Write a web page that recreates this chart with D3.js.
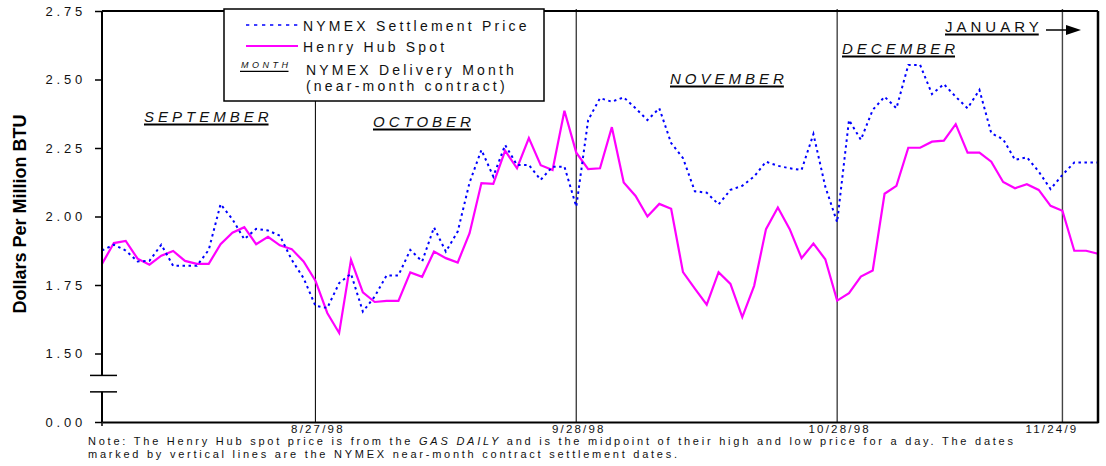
<!DOCTYPE html>
<html>
<head>
<meta charset="utf-8">
<script src="https://cdn.jsdelivr.net/npm/d3@7"></script>
<style>
  body { margin: 0; background: #fff; }
  svg { display: block; font-family: "Liberation Sans", Arial, sans-serif; }
</style>
</head>
<body>
<div id="chart"></div>
<script>
// trading days (weekdays) Aug 3 - Nov 27, 1998
const dates = [
  "8/3","8/4","8/5","8/6","8/7","8/10","8/11","8/12","8/13","8/14",
  "8/17","8/18","8/19","8/20","8/21","8/24","8/25","8/26","8/27","8/28",
  "8/31","9/1","9/2","9/3","9/4","9/7","9/8","9/9","9/10","9/11",
  "9/14","9/15","9/16","9/17","9/18","9/21","9/22","9/23","9/24","9/25",
  "9/28","9/29","9/30","10/1","10/2","10/5","10/6","10/7","10/8","10/9",
  "10/12","10/13","10/14","10/15","10/16","10/19","10/20","10/21","10/22","10/23",
  "10/26","10/27","10/28","10/29","10/30","11/2","11/3","11/4","11/5","11/6",
  "11/9","11/10","11/11","11/12","11/13","11/16","11/17","11/18","11/19","11/20",
  "11/23","11/24","11/25","11/26","11/27"
];

const henryHub = [
  1.827, 1.903, 1.911, 1.846, 1.824, 1.857, 1.874, 1.838, 1.827, 1.827,
  1.899, 1.941, 1.961, 1.899, 1.926, 1.895, 1.881, 1.836, 1.766, 1.648,
  1.575, 1.842, 1.723, 1.688, 1.692, 1.692, 1.796, 1.780, 1.872, 1.848,
  1.832, 1.939, 2.122, 2.119, 2.240, 2.176, 2.286, 2.187, 2.170, 2.386,
  2.233, 2.173, 2.176, 2.326, 2.124, 2.075, 2.000, 2.046, 2.028, 1.797,
  1.737, 1.678, 1.797, 1.754, 1.633, 1.747, 1.954, 2.033, 1.954, 1.848,
  1.901, 1.844, 1.693, 1.720, 1.781, 1.803, 2.083, 2.112, 2.251, 2.251,
  2.273, 2.277, 2.337, 2.233, 2.233, 2.200, 2.126, 2.103, 2.118, 2.097,
  2.039, 2.021, 1.875, 1.875, 1.864
];

const nymex = [
  1.876, 1.897, 1.876, 1.836, 1.838, 1.897, 1.820, 1.820, 1.820, 1.878,
  2.045, 1.990, 1.917, 1.955, 1.949, 1.930, 1.842, 1.775, 1.674, 1.666,
  1.757, 1.791, 1.653, 1.708, 1.785, 1.785, 1.878, 1.836, 1.960, 1.872,
  1.945, 2.124, 2.243, 2.146, 2.261, 2.188, 2.188, 2.134, 2.182, 2.182,
  2.036, 2.352, 2.432, 2.419, 2.435, 2.395, 2.352, 2.395, 2.268, 2.213,
  2.092, 2.087, 2.044, 2.097, 2.112, 2.146, 2.200, 2.185, 2.176, 2.170,
  2.301, 2.109, 1.979, 2.352, 2.280, 2.389, 2.437, 2.395, 2.553, 2.553,
  2.447, 2.483, 2.437, 2.395, 2.462, 2.304, 2.282, 2.207, 2.216, 2.164,
  2.100, 2.152, 2.197, 2.197, 2.197
];

// NYMEX near-month settlement dates (vertical lines)
const settleDates = ["8/27", "9/28", "10/28", "11/24"];
const settleLabels = ["8/27/98", "9/28/98", "10/28/98", "11/24/9"];

// y axis: broken scale, bottom tick reads 0.00
const yTicks = [1.25, 1.5, 1.75, 2.0, 2.25, 2.5, 2.75];
const yTickLabels = ["0.00", "1.50", "1.75", "2.00", "2.25", "2.50", "2.75"];

const monthLabels = [
  { text: "SEPTEMBER", x: 144, y: 122, italic: true },
  { text: "OCTOBER", x: 373, y: 127, italic: true },
  { text: "NOVEMBER", x: 670, y: 84, italic: true },
  { text: "DECEMBER", x: 842, y: 54, italic: true },
  { text: "JANUARY", x: 945, y: 32, italic: false }
];

const width = 1106, height = 466;
const marginLeft = 102, plotRight = 1098, plotTop = 11, plotBottom = 422;

const svg = d3.select("#chart").append("svg")
  .attr("width", width)
  .attr("height", height);

const x = d3.scaleLinear().domain([0, dates.length - 1]).range([marginLeft, plotRight]);
const y = d3.scaleLinear().domain([1.25, 2.75]).range([plotBottom, plotTop]);

// vertical settlement lines
svg.append("g")
  .selectAll("line")
  .data(settleDates)
  .join("line")
  .attr("x1", d => x(dates.indexOf(d)))
  .attr("x2", d => x(dates.indexOf(d)))
  .attr("y1", plotTop - 2)
  .attr("y2", plotBottom)
  .attr("stroke", (d, i) => (i % 2 ? "#444" : "#111"))
  .attr("stroke-width", (d, i) => (i % 2 ? 1.4 : 1.1));

// series
const line = d3.line().x((d, i) => x(i)).y(d => y(d));

svg.append("path")
  .datum(henryHub)
  .attr("fill", "none")
  .attr("stroke", "#ff00ff")
  .attr("stroke-width", 2.2)
  .attr("stroke-linejoin", "miter")
  .attr("d", line);

svg.append("path")
  .datum(nymex)
  .attr("fill", "none")
  .attr("stroke", "#0000ff")
  .attr("stroke-width", 2)
  .attr("stroke-dasharray", "2.5,3.5")
  .attr("d", line);

// frame: top and right
svg.append("line")
  .attr("x1", marginLeft).attr("x2", plotRight)
  .attr("y1", plotTop).attr("y2", plotTop)
  .attr("stroke", "#000").attr("stroke-width", 2);
svg.append("line")
  .attr("x1", plotRight).attr("x2", plotRight)
  .attr("y1", plotTop).attr("y2", plotBottom + 1)
  .attr("stroke", "#000").attr("stroke-width", 2.5);

// y axis
const gy = svg.append("g")
  .attr("transform", `translate(${marginLeft},0)`)
  .call(
    d3.axisLeft(y)
      .tickValues(yTicks)
      .tickFormat((d, i) => yTickLabels[i])
      .tickSize(7)
      .tickPadding(9)
  );
gy.select(".domain").remove();
gy.selectAll(".tick line").attr("stroke", "#000").attr("stroke-width", 1.5);
gy.selectAll(".tick text")
  .attr("font-family", "Liberation Sans, Arial, sans-serif")
  .attr("font-size", 13)
  .attr("fill", "#111")
  .style("letter-spacing", "3.8px");

// axis line with break
const brkHi = y(1.42), brkLo = y(1.36);
svg.append("line")
  .attr("x1", marginLeft).attr("x2", marginLeft)
  .attr("y1", plotTop).attr("y2", brkHi)
  .attr("stroke", "#000").attr("stroke-width", 2);
svg.append("line")
  .attr("x1", marginLeft).attr("x2", marginLeft)
  .attr("y1", brkLo).attr("y2", plotBottom)
  .attr("stroke", "#000").attr("stroke-width", 2);
svg.append("g")
  .selectAll("line")
  .data([brkHi, brkLo])
  .join("line")
  .attr("x1", marginLeft - 12).attr("x2", marginLeft + 15)
  .attr("y1", d => d).attr("y2", d => d)
  .attr("stroke", "#000").attr("stroke-width", 1.5);

// x axis
const gx = svg.append("g")
  .attr("transform", `translate(0,${plotBottom})`)
  .call(
    d3.axisBottom(x)
      .tickValues(settleDates.map(d => dates.indexOf(d)))
      .tickFormat((d, i) => settleLabels[i])
      .tickSize(0)
      .tickPadding(2.5)
  );
gx.select(".domain").attr("stroke", "#000").attr("stroke-width", 2);
gx.selectAll(".tick text")
  .attr("font-family", "Liberation Sans, Arial, sans-serif")
  .attr("font-size", 11.5)
  .attr("fill", "#111")
  .attr("dx", (d, i) => (i === settleDates.length - 1 ? -11 : 2))
  .style("letter-spacing", "2.2px");
gx.append("line")
  .attr("x1", marginLeft).attr("x2", marginLeft)
  .attr("y1", 0).attr("y2", 4)
  .attr("stroke", "#000").attr("stroke-width", 1.5);

// y axis title
svg.append("text")
  .attr("transform", "translate(26,214) rotate(-90)")
  .attr("text-anchor", "middle")
  .attr("font-size", 18)
  .attr("font-weight", "bold")
  .attr("fill", "#000")
  .text("Dollars Per Million BTU");

// month labels with underline
monthLabels.forEach(m => {
  const t = svg.append("text")
    .attr("x", m.x).attr("y", m.y)
    .attr("font-size", 15)
    .attr("font-style", m.italic ? "italic" : "normal")
    .attr("fill", "#111")
    .style("letter-spacing", "4px")
    .text(m.text);
  const w = t.node().getComputedTextLength() - 4;
  svg.append("line")
    .attr("x1", m.x).attr("x2", m.x + w)
    .attr("y1", m.y + 2.5).attr("y2", m.y + 2.5)
    .attr("stroke", "#000").attr("stroke-width", 2);
});

// January arrow
svg.append("line")
  .attr("x1", 1046).attr("x2", 1068)
  .attr("y1", 30).attr("y2", 30)
  .attr("stroke", "#000").attr("stroke-width", 1.5);
svg.append("path")
  .attr("d", "M1066,25L1081,30L1066,35Z")
  .attr("fill", "#000");

// legend
const lg = svg.append("g");
lg.append("rect")
  .attr("x", 224).attr("y", 9)
  .attr("width", 320).attr("height", 92)
  .attr("fill", "#fff")
  .attr("stroke", "#000")
  .attr("stroke-width", 1.5);
lg.append("line")
  .attr("x1", 246).attr("x2", 298).attr("y1", 25).attr("y2", 25)
  .attr("stroke", "#0000ff").attr("stroke-width", 1.5)
  .attr("stroke-dasharray", "3.3,4.7");
lg.append("line")
  .attr("x1", 246).attr("x2", 298).attr("y1", 46).attr("y2", 46)
  .attr("stroke", "#ff00ff").attr("stroke-width", 2);
const legendText = [
  { text: "NYMEX Settlement Price", x: 303, y: 31 },
  { text: "Henry Hub Spot", x: 303, y: 51.5 },
  { text: "NYMEX Delivery Month", x: 306, y: 75 },
  { text: "(near-month contract)", x: 306, y: 91 }
];
lg.selectAll("text.item")
  .data(legendText)
  .join("text")
  .attr("class", "item")
  .attr("x", d => d.x).attr("y", d => d.y)
  .attr("font-size", 14)
  .attr("fill", "#111")
  .style("letter-spacing", "3.2px")
  .text(d => d.text);
const mt = lg.append("text")
  .attr("x", 241).attr("y", 68)
  .attr("font-size", 9)
  .attr("font-style", "italic")
  .attr("fill", "#111")
  .style("letter-spacing", "3.5px")
  .text("MONTH");
lg.append("line")
  .attr("x1", 240).attr("x2", 241 + mt.node().getComputedTextLength() - 3)
  .attr("y1", 71.3).attr("y2", 71.3)
  .attr("stroke", "#000").attr("stroke-width", 1.2);

// note
const note1 = svg.append("text")
  .attr("x", 88).attr("y", 445)
  .attr("font-size", 11)
  .attr("fill", "#111")
  .attr("textLength", 925)
  .attr("lengthAdjust", "spacing");
note1.append("tspan").text("Note: The Henry Hub spot price is from the ");
note1.append("tspan").attr("font-style", "italic").text("GAS DAILY");
note1.append("tspan").text(" and is the midpoint of their high and low price for a day.  The dates");
svg.append("text")
  .attr("x", 88).attr("y", 458)
  .attr("font-size", 11)
  .attr("fill", "#111")
  .attr("textLength", 589)
  .attr("lengthAdjust", "spacing")
  .text("marked by vertical lines are the NYMEX near-month contract settlement dates.");
</script>
</body>
</html>
